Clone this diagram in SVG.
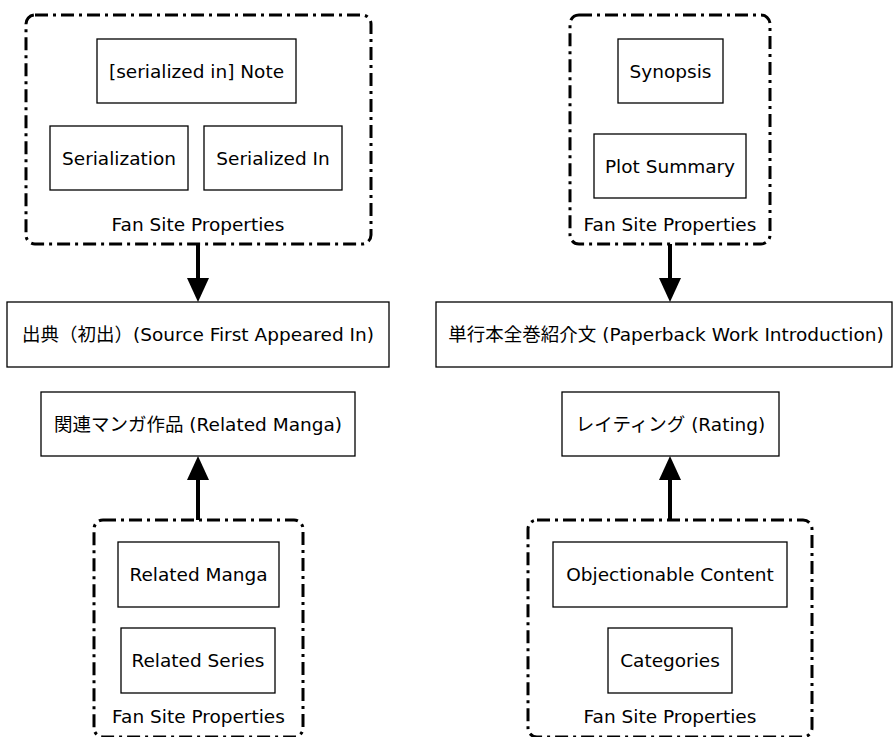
<svg xmlns="http://www.w3.org/2000/svg" width="893" height="737" viewBox="0 0 893 737">
<defs>
<style>
text{font-family:"DejaVu Sans","Noto Sans CJK JP",sans-serif;font-size:18.5px;fill:#000;text-anchor:middle}
.node{fill:#fff;stroke:#000;stroke-width:1.3}
.cluster{fill:none;stroke:#000;stroke-width:3;stroke-dasharray:13,5,3,5}
.edge{fill:none;stroke:#000;stroke-width:4}
</style>
<marker id="ah" markerUnits="userSpaceOnUse" markerWidth="24" markerHeight="22" viewBox="0 0 24 22" refX="2" refY="11" orient="auto">
<path d="M0,0 L24,11 L0,22 z" fill="#000"/>
</marker>
</defs>
<rect width="893" height="737" fill="#fff"/>
<g id="cluster_tl"><rect class="cluster" x="26" y="15" width="345" height="229" rx="9"/><text x="198" y="231">Fan Site Properties</text></g>
<g id="cluster_tr"><rect class="cluster" x="570" y="15" width="200" height="229" rx="9"/><text x="670" y="231">Fan Site Properties</text></g>
<g id="cluster_bl"><rect class="cluster" x="94" y="520" width="209" height="217" rx="9"/><text x="198.5" y="723">Fan Site Properties</text></g>
<g id="cluster_br"><rect class="cluster" x="528" y="520" width="284" height="217" rx="9"/><text x="670" y="723">Fan Site Properties</text></g>
<g id="n_note"><rect class="node" x="97" y="39" width="199" height="64"/><text x="196.5" y="78">[serialized in] Note</text></g>
<g id="n_serialization"><rect class="node" x="50" y="126" width="138" height="64"/><text x="119" y="165">Serialization</text></g>
<g id="n_serializedin"><rect class="node" x="204" y="126" width="138" height="64"/><text x="273" y="165">Serialized In</text></g>
<g id="n_synopsis"><rect class="node" x="618" y="39" width="105" height="64"/><text x="670.5" y="78">Synopsis</text></g>
<g id="n_plot"><rect class="node" x="594" y="134" width="152" height="64"/><text x="670" y="173">Plot Summary</text></g>
<g id="n_source"><rect class="node" x="7" y="302" width="382" height="65"/><text x="198" y="341">出典（初出）(Source First Appeared In)</text></g>
<g id="n_relmanga_jp"><rect class="node" x="41" y="392" width="314" height="64"/><text x="198" y="431">関連マンガ作品 (Related Manga)</text></g>
<g id="n_paperback"><rect class="node" x="436" y="302" width="456" height="65"/><text x="666" y="341">単行本全巻紹介文 (Paperback Work Introduction)</text></g>
<g id="n_rating"><rect class="node" x="562" y="392" width="217" height="64"/><text x="670.5" y="431">レイティング (Rating)</text></g>
<g id="n_relmanga"><rect class="node" x="118" y="542" width="161" height="65"/><text x="198.5" y="581">Related Manga</text></g>
<g id="n_relseries"><rect class="node" x="121" y="628" width="154" height="65"/><text x="198" y="667">Related Series</text></g>
<g id="n_objectionable"><rect class="node" x="553" y="542" width="234" height="65"/><text x="670" y="581">Objectionable Content</text></g>
<g id="n_categories"><rect class="node" x="608" y="628" width="124" height="65"/><text x="670" y="667">Categories</text></g>
<g id="connectors">
<path class="edge" d="M198,244 V280" marker-end="url(#ah)"/>
<path class="edge" d="M670,244 V280" marker-end="url(#ah)"/>
<path class="edge" d="M198,520 V478" marker-end="url(#ah)"/>
<path class="edge" d="M670,520 V478" marker-end="url(#ah)"/>
</g>
</svg>
